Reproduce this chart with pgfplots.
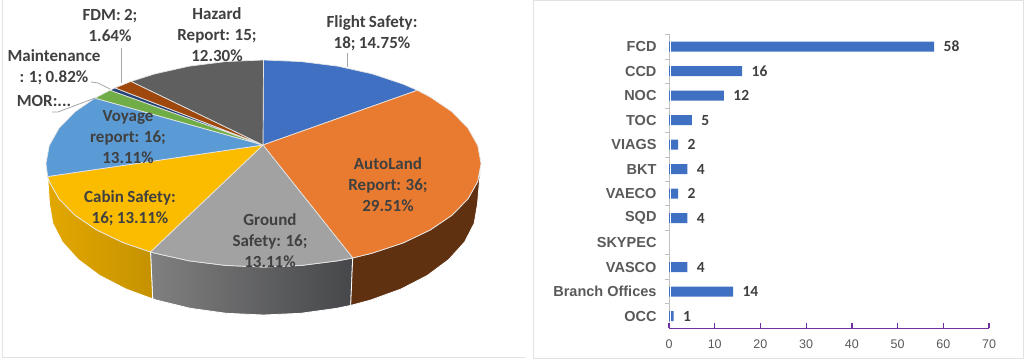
\documentclass[border=0pt]{standalone}
\usepackage{fontspec}
\usepackage{pgfplots}
\pgfplotsset{compat=1.18}
\setmainfont{Carlito}[WordSpace=0.85]
\newfontfamily\arialf{Liberation Sans}
\definecolor{cBlue}{HTML}{4070C2}
\definecolor{cOrange}{HTML}{E97B30}
\definecolor{cGray}{HTML}{A3A2A2}
\definecolor{cYellow}{HTML}{FBBC00}
\definecolor{cLight}{HTML}{5B9BD5}
\definecolor{cGreen}{HTML}{70AD47}
\definecolor{cNavy}{HTML}{264478}
\definecolor{cBrown}{HTML}{9E480E}
\definecolor{cDark}{HTML}{5F5F5F}
\definecolor{txt}{HTML}{404040}
\definecolor{lead}{HTML}{A6A6A6}
\definecolor{ticktxt}{HTML}{595959}
\definecolor{frameC}{HTML}{E2E2E2}
\definecolor{purp}{HTML}{7030A0}
\definecolor{grayL}{HTML}{808080}
\definecolor{grayR}{HTML}{46474A}
\definecolor{yelL}{HTML}{E3A700}
\definecolor{yelR}{HTML}{C59200}
\definecolor{sideO}{HTML}{5F3111}
\tikzset{lab/.style={text=txt,font=\fontsize{17}{21}\selectfont\bfseries,align=center,inner sep=0pt}}
\begin{document}
\begin{tikzpicture}
\useasboundingbox (0,0) rectangle (1024pt,359pt);
\begin{axis}[at={(669pt,30.7pt)},anchor=south west,scale only axis,width=320pt,height=293.9pt,
  xbar,bar width=10pt,
  xmin=0,xmax=70,ymin=-0.5,ymax=11.5,
  axis x line=bottom,axis y line=left,
  axis line style={-},
  x axis line style={purp,line width=1.2pt},
  y axis line style={frameC!85!black,line width=0.9pt},
  xtick={0,10,...,70},
  major tick length=0pt,
  ytick={0,...,11},
  yticklabels={OCC,Branch Offices,VASCO,SKYPEC,SQD,VAECO,BKT,VIAGS,TOC\hspace{4pt},NOC,CCD,FCD},
  y tick label style={font=\arialf\bfseries\fontsize{14.5}{16}\selectfont,text=ticktxt,xshift=-9pt},
  x tick label style={font=\arialf\fontsize{12.5}{14}\selectfont,text=ticktxt,yshift=-8pt},
  /pgf/number format/assume math mode=true,
  nodes near coords,
  every node near coord/.append style={font=\bfseries\fontsize{15.5}{17}\selectfont,text=txt,xshift=6pt,yshift=0pt},
  clip=false]
\addplot[fill=cBlue,draw=none] coordinates {(58,11)(16,10)(12,9)(5,8)(2,7)(4,6)(2,5)(4,4)(4,2)(14,1)(1,0)};
\end{axis}
\draw[white,line width=1pt] (670.2pt,36pt) -- (670.2pt,322pt);
\begin{axis}[at={(0,0)},anchor=south west,scale only axis,width=1024pt,height=359pt,
  xmin=0,xmax=1024,ymin=0,ymax=359,y dir=reverse,hide axis,clip=true,
  every axis plot/.append style={line join=round}]
% panel frames
\addplot[frameC,line width=1pt] coordinates {(533,359)(533,0.5)(1023,0.5)(1023,358)(533,358)};
\addplot[frameC,line width=1pt] coordinates {(2,0)(2,357)(525,357)};
% side walls
\addplot[left color=grayL,right color=grayR,draw=white,line width=0.8pt] coordinates {
 (352.7,257.9)(337.9,260.8)(301.3,265.4)(263.5,267)(225.7,265.4)(189.1,260.8)(154.75,253.1)(150.5,251.9)
 (152.7,298.9)(156.5,300.1)(190.3,308.3)(226.3,313.3)(263.5,315)(300.7,313.3)(336.7,308.3)(350.7,305.4)} --cycle;
\addplot[left color=yelL,right color=yelR,draw=white,line width=0.8pt] coordinates {
 (150.5,251.9)(123.7,242.8)(96.9,230)(75.1,215.25)(59.1,198.9)(49.3,181.5)(47.7,176.5)
 (49.5,204)(52.8,223.3)(62.4,242)(78.2,259.5)(99.6,275.4)(125.9,289)(152.7,298.9)} --cycle;
\addplot[fill=sideO,draw=white,line width=0.8pt] coordinates {
 (481,163.5)(477.7,181.5)(467.9,198.9)(451.9,215.25)(430.1,230)(403.3,242.8)(372.3,253.1)(352.7,257.9)
 (350.7,305.4)(370.5,300.1)(401.1,289)(427.4,275.4)(448.8,259.5)(464.6,242)(474.2,223.3)(477.5,204)} --cycle;
% top wedges
\addplot[fill=cBlue,draw=white!90!black,line width=0.7pt] coordinates {(263,145)(263.5,60)(301.3,61.6)(337.9,66.2)(372.3,73.9)(403.3,84.2)(417.3,90.3)} --cycle;
\addplot[fill=cOrange,draw=white!90!black,line width=0.7pt] coordinates {(263,145)(417.3,90.3)(430.1,97)(451.9,111.75)(467.9,128.1)(477.7,145.5)(481,163.5)(477.7,181.5)(467.9,198.9)(451.9,215.25)(430.1,230)(403.3,242.8)(372.3,253.1)(352.7,257.9)} --cycle;
\addplot[fill=cGray,draw=white!90!black,line width=0.7pt] coordinates {(263,145)(352.7,257.9)(337.9,260.8)(301.3,265.4)(263.5,267)(225.7,265.4)(189.1,260.8)(154.75,253.1)(150.5,251.9)} --cycle;
\addplot[fill=cYellow,draw=white!90!black,line width=0.7pt] coordinates {(263,145)(150.5,251.9)(123.7,242.8)(96.9,230)(75.1,215.25)(59.1,198.9)(49.3,181.5)(47.7,176.5)} --cycle;
\addplot[fill=cLight,draw=white!90!black,line width=0.7pt] coordinates {(263,145)(47.7,176.5)(46,163.5)(49.3,145.5)(59.1,128.1)(75.1,111.75)(94.9,98.1)} --cycle;
\addplot[fill=cGreen,draw=white!90!black,line width=0.7pt] coordinates {(263,145)(94.9,98.1)(110,90.2)} --cycle;
\addplot[fill=cNavy,draw=white!90!black,line width=0.7pt] coordinates {(263,145)(110,90.2)(115,87.9)} --cycle;
\addplot[fill=cBrown,draw=white!90!black,line width=0.7pt] coordinates {(263,145)(115,87.9)(131.1,81.4)} --cycle;
\addplot[fill=cDark,draw=white!90!black,line width=0.7pt] coordinates {(263,145)(131.1,81.4)(154.75,73.9)(189.1,66.2)(225.7,61.6)(263.5,60)} --cycle;
% leader lines
\addplot[lead,line width=0.8pt] coordinates {(347,53)(347,67)};
\addplot[lead,line width=0.8pt] coordinates {(121,48)(121,83)};
\addplot[lead,line width=0.8pt] coordinates {(91,82)(98,83)(110,89)};
\addplot[lead,line width=0.8pt] coordinates {(52,112)(58,112)(95,98)};
% labels
\node[lab] at (axis cs:372,33) {Flight Safety:\\18; 14.75\%};
\node[lab] at (axis cs:217,35) {Hazard\\Report: 15;\\12.30\%};
\node[lab] at (axis cs:110,25) {FDM: 2;\\1.64\%};
\node[lab] at (axis cs:54,67) {Maintenance\\: 1; 0.82\%};
\node[lab] at (axis cs:44,101) {MOR:...};
\node[lab] at (axis cs:128,137) {Voyage\\report: 16;\\13.11\%};
\node[lab] at (axis cs:130,208) {Cabin Safety:\\16; 13.11\%};
\node[lab] at (axis cs:270,241) {Ground\\Safety: 16;\\13.11\%};
\node[lab] at (axis cs:388,185) {AutoLand\\Report: 36;\\29.51\%};
% axis ticks of the bar panel
\addplot[purp,line width=1.2pt] coordinates {(669,323)(669,328.3)};
\addplot[purp,line width=1.2pt] coordinates {(714.7,323)(714.7,328.3)};
\addplot[purp,line width=1.2pt] coordinates {(760.4,323)(760.4,328.3)};
\addplot[purp,line width=1.2pt] coordinates {(806.1,323)(806.1,328.3)};
\addplot[purp,line width=1.2pt] coordinates {(851.9,323)(851.9,328.3)};
\addplot[purp,line width=1.2pt] coordinates {(897.6,323)(897.6,328.3)};
\addplot[purp,line width=1.2pt] coordinates {(943.3,323)(943.3,328.3)};
\addplot[purp,line width=1.2pt] coordinates {(989,323)(989,328.3)};
\addplot[frameC!85!black,line width=0.8pt] coordinates {(665,34.4)(669,34.4)};
\addplot[frameC!85!black,line width=0.8pt] coordinates {(665,58.9)(669,58.9)};
\addplot[frameC!85!black,line width=0.8pt] coordinates {(665,83.4)(669,83.4)};
\addplot[frameC!85!black,line width=0.8pt] coordinates {(665,107.9)(669,107.9)};
\addplot[frameC!85!black,line width=0.8pt] coordinates {(665,132.4)(669,132.4)};
\addplot[frameC!85!black,line width=0.8pt] coordinates {(665,156.9)(669,156.9)};
\addplot[frameC!85!black,line width=0.8pt] coordinates {(665,181.4)(669,181.4)};
\addplot[frameC!85!black,line width=0.8pt] coordinates {(665,205.8)(669,205.8)};
\addplot[frameC!85!black,line width=0.8pt] coordinates {(665,230.3)(669,230.3)};
\addplot[frameC!85!black,line width=0.8pt] coordinates {(665,254.8)(669,254.8)};
\addplot[frameC!85!black,line width=0.8pt] coordinates {(665,279.3)(669,279.3)};
\addplot[frameC!85!black,line width=0.8pt] coordinates {(665,303.8)(669,303.8)};
\end{axis}
\end{tikzpicture}
\end{document}
